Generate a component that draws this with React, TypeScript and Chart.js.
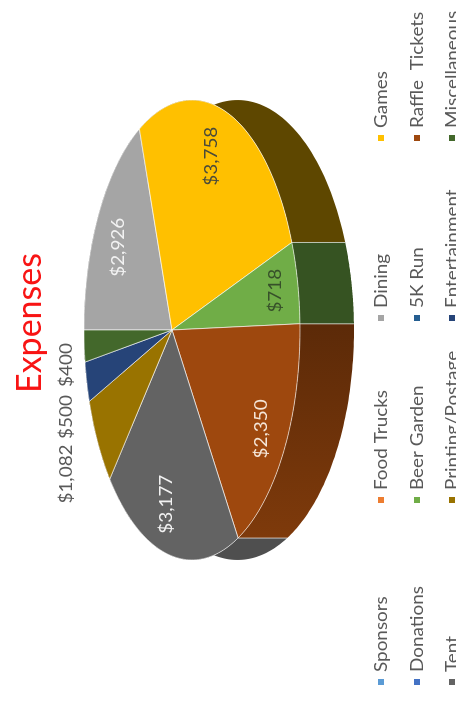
import React, { useEffect, useRef } from "react";
import { Chart, registerables } from "chart.js";

Chart.register(...registerables);

const categories = ["Sponsors", "Food Trucks", "Dining", "Games", "Donations", "Beer Garden", "5K Run", "Raffle  Tickets", "Tent", "Printing/Postage", "Entertainment", "Miscellaneous"];
const expenses = [0, 0, 2926, 3758, 0, 718, 0, 2350, 3177, 1082, 500, 400];
const sliceColors = ["#5B9BD5", "#ED7D31", "#A5A5A5", "#FFC000", "#4472C4", "#70AD47", "#255E91", "#9E480E", "#636363", "#997300", "#264478", "#43682B"];
const priceLabels = ["", "", "$2,926", "$3,758", "", "$718", "", "$2,350", "$3,177", "$1,082", "$500", "$400"];
const labelColors = ["", "", "#f2f2f2", "#4a4a3a", "", "#37502a", "", "#f5e6d8", "#f2f2f2", "#595959", "#595959", "#595959"];
const title = "Expenses";

// Depth shading of each slice's side wall, at its start and end.
const wallShadeStart = [1, 1, 0.4, 0.37, 1, 0.48, 1, 0.58, 0.8, 0.5, 0.5, 0.5];
const wallShadeEnd = [1, 1, 0.4, 0.37, 1, 0.48, 1, 0.8, 0.8, 0.5, 0.5, 0.5];

// Perspective view of the pie, in units of the pie's radius.
const VIEW = { along: 2.26, across: 1.043, tilt: 0.185, depth: 0.44 };
const INSIDE_LABEL_RADIUS = [0, 0, 0.7, 0.8, 0, 0.85, 0, 0.83, 0.78, 0, 0, 0];
const OUTSIDE_LABEL_ALONG = [0, 0, 0, 0, 0, 0, 0, 0, 0, -1.44, -0.87, -0.35];
const OUTSIDE_LABEL_ACROSS = -1.06;

const LEGEND_COLUMNS = [33, 215, 397, 577];
const LEGEND_ROWS = [381, 417, 452];
const FONT = "Lato, 'Open Sans', sans-serif";
const TEXT_STRETCH = 1.05;

function project(arc: any, rho: number, theta: number, lifted = false) {
  const R = arc.outerRadius;
  const a = rho * Math.cos(theta);
  const b = rho * Math.sin(theta);
  const w = 1 - VIEW.tilt * b;
  return {
    x: arc.x + (VIEW.along * R * a) / w,
    y: arc.y + (VIEW.across * R * b) / w + (lifted ? (VIEW.depth * R) / w : 0),
  };
}

function shade(hex: string, f: number) {
  const n = parseInt(hex.slice(1), 16);
  const c = [(n >> 16) & 255, (n >> 8) & 255, n & 255].map((v) => Math.round(v * f));
  return `rgb(${c[0]},${c[1]},${c[2]})`;
}

function stretchedText(ctx: CanvasRenderingContext2D, text: string, x: number, y: number, stretch: number) {
  ctx.save();
  ctx.translate(x, y);
  ctx.scale(stretch, 1);
  ctx.fillText(text, 0, 0);
  ctx.restore();
}

const perspectivePie = {
  id: "perspectivePie",
  beforeDatasetDraw(chart: any) {
    const ctx = chart.ctx as CanvasRenderingContext2D;
    const arcs = chart.getDatasetMeta(0).data as any[];
    const STEPS = 60;
    const edge = "rgba(255,255,255,0.6)";

    const order = arcs
      .map((arc, i) => ({ arc, i }))
      .filter((o) => expenses[o.i] > 0)
      .sort((p, q) => Math.sin((p.arc.startAngle + p.arc.endAngle) / 2) - Math.sin((q.arc.startAngle + q.arc.endAngle) / 2));

    for (const { arc, i } of order) {
      const span = arc.endAngle - arc.startAngle;
      const top = [] as { x: number; y: number }[];
      const low = [] as { x: number; y: number }[];
      for (let s = 0; s <= STEPS; s++) {
        const t = arc.startAngle + (span * s) / STEPS;
        top.push(project(arc, 1, t));
        low.push(project(arc, 1, t, true));
      }
      const g = ctx.createLinearGradient(top[0].x, 0, top[STEPS].x + 0.01, 0);
      g.addColorStop(0, shade(sliceColors[i], wallShadeStart[i]));
      g.addColorStop(1, shade(sliceColors[i], wallShadeEnd[i]));
      ctx.beginPath();
      top.forEach((p, n) => (n ? ctx.lineTo(p.x, p.y) : ctx.moveTo(p.x, p.y)));
      low.reverse().forEach((p) => ctx.lineTo(p.x, p.y));
      ctx.closePath();
      ctx.fillStyle = g;
      ctx.fill();
      ctx.strokeStyle = edge;
      ctx.lineWidth = 0.8;
      for (const t of [arc.startAngle, arc.endAngle]) {
        const a = project(arc, 1, t);
        const b = project(arc, 1, t, true);
        if (Math.sin(t) > 0.1) {
          ctx.beginPath();
          ctx.moveTo(a.x, a.y);
          ctx.lineTo(b.x, b.y);
          ctx.stroke();
        }
      }
    }

    arcs.forEach((arc, i) => {
      if (expenses[i] <= 0) return;
      const span = arc.endAngle - arc.startAngle;
      ctx.beginPath();
      const c = project(arc, 0, 0);
      ctx.moveTo(c.x, c.y);
      for (let s = 0; s <= STEPS; s++) {
        const p = project(arc, 1, arc.startAngle + (span * s) / STEPS);
        ctx.lineTo(p.x, p.y);
      }
      ctx.closePath();
      ctx.fillStyle = arc.options.backgroundColor;
      ctx.fill();
      ctx.strokeStyle = edge;
      ctx.lineWidth = 1;
      ctx.stroke();
    });

    ctx.textAlign = "center";
    ctx.textBaseline = "middle";
    ctx.font = `18px ${FONT}`;
    arcs.forEach((arc, i) => {
      if (expenses[i] <= 0) return;
      const mid = (arc.startAngle + arc.endAngle) / 2;
      ctx.fillStyle = labelColors[i];
      if (INSIDE_LABEL_RADIUS[i] > 0) {
        const p = project(arc, INSIDE_LABEL_RADIUS[i], mid);
        stretchedText(ctx, priceLabels[i], p.x, p.y, TEXT_STRETCH);
      } else {
        const R = arc.outerRadius;
        stretchedText(ctx, priceLabels[i], arc.x + OUTSIDE_LABEL_ALONG[i] * R, arc.y + OUTSIDE_LABEL_ACROSS * R, TEXT_STRETCH);
      }
    });
    return false;
  },
  afterDraw(chart: any) {
    const ctx = chart.ctx as CanvasRenderingContext2D;
    ctx.save();
    ctx.fillStyle = "#f81414";
    ctx.font = `34px ${FONT}`;
    ctx.textAlign = "center";
    ctx.textBaseline = "middle";
    ctx.fillText(title, 392, 30);

    ctx.font = `18px ${FONT}`;
    ctx.textAlign = "left";
    categories.forEach((name, i) => {
      const cx = LEGEND_COLUMNS[i % 4];
      const cy = LEGEND_ROWS[Math.floor(i / 4)];
      ctx.fillStyle = sliceColors[i];
      ctx.fillRect(cx - 3, cy - 3, 6, 6);
      ctx.fillStyle = "#595959";
      stretchedText(ctx, name, cx + 10, cy, TEXT_STRETCH);
    });
    ctx.restore();
  },
};

export default function App() {
  const ref = useRef<HTMLCanvasElement>(null);
  useEffect(() => {
    const chart = new Chart(ref.current!, {
      type: "pie",
      data: {
        labels: categories,
        datasets: [{ data: expenses, backgroundColor: sliceColors, borderWidth: 0 }],
      },
      options: {
        animation: false,
        responsive: false,
        devicePixelRatio: 1,
        layout: { padding: { left: 285, right: 230, top: 72, bottom: 184 } },
        plugins: { legend: { display: false }, title: { display: false }, tooltip: { enabled: false } },
      },
      plugins: [perspectivePie],
    } as any);
    return () => chart.destroy();
  }, []);
  return (
    <canvas
      ref={ref}
      width={715}
      height={456}
      style={{
        position: "fixed",
        left: 0,
        top: 0,
        width: 715,
        height: 456,
        transformOrigin: "0 0",
        transform: "translateY(715px) rotate(-90deg)",
        filter: "blur(0.6px)",
        background: "#fff",
      }}
    />
  );
}
